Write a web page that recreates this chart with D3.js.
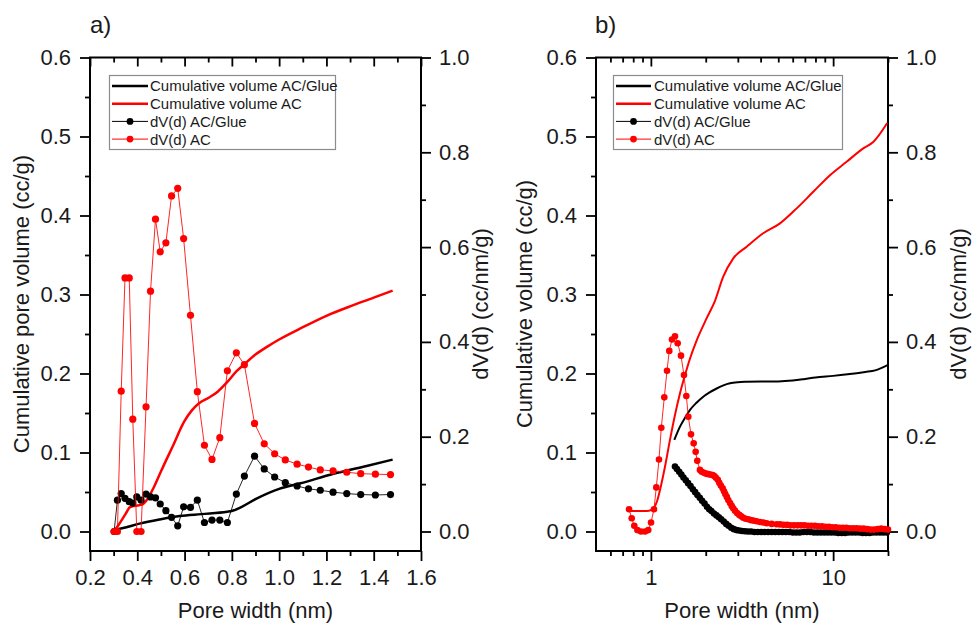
<!DOCTYPE html>
<html>
<head>
<meta charset="utf-8">
<script src="https://cdn.jsdelivr.net/npm/d3@7"></script>
<style>
  html, body { margin: 0; padding: 0; background: #fff; }
  svg { display: block; font-family: "Liberation Sans", Arial, Helvetica, sans-serif; }
</style>
</head>
<body>
<svg id="chart" width="974" height="627"></svg>
<script>
// ---------- Panel a: DFT pore size distribution (linear pore-width axis) ----------
const aPoreWidth = [0.302,0.316,0.332,0.348,0.366,0.381,0.398,0.416,0.437,0.456,0.477,0.497,0.521,0.545,0.571,0.596,0.625,0.654,0.684,0.716,0.749,0.781,0.819,0.853,0.896,0.937,0.981,1.026,1.076,1.124,1.174,1.228,1.286,1.345,1.407,1.471];
const aDvGlue = [0,0.066,0.080,0.070,0.063,0.060,0.073,0.066,0.079,0.073,0.071,0.058,0.044,0.030,0.012,0.052,0.051,0.066,0.019,0.024,0.024,0.019,0.079,0.117,0.159,0.132,0.115,0.103,0.096,0.090,0.087,0.083,0.080,0.078,0.077,0.078];
const aDvAC = [0,0,0.296,0.535,0.535,0.237,0,0,0.263,0.507,0.659,0.590,0.609,0.708,0.724,0.618,0.456,0.295,0.182,0.152,0.198,0.339,0.377,0.352,0.228,0.185,0.164,0.151,0.142,0.136,0.130,0.128,0.125,0.122,0.121,0.120];

const aCumGlueWidth = [0.30,0.31,0.35,0.41,0.50,0.58,0.67,0.78,0.80,0.84,0.90,1.00,1.09,1.23,1.37,1.48];
const aCumGlue = [0,0.002,0.005,0.010,0.0155,0.0195,0.022,0.025,0.026,0.031,0.041,0.054,0.061,0.073,0.083,0.091];
const aCumACWidth = [0.30,0.32,0.35,0.37,0.40,0.42,0.44,0.47,0.50,0.55,0.60,0.63,0.66,0.70,0.74,0.78,0.82,0.85,0.90,0.95,1.00,1.09,1.20,1.30,1.40,1.48];
const aCumAC = [0,0.008,0.022,0.031,0.033,0.034,0.040,0.056,0.076,0.108,0.140,0.153,0.162,0.169,0.177,0.189,0.203,0.211,0.224,0.234,0.243,0.257,0.273,0.285,0.296,0.305];

// ---------- Panel b: QSDFT distribution (log pore-width axis) ----------
const bDvGlueWidth = [1.356,1.39,1.43,1.47,1.51,1.555,1.60,1.65,1.70,1.75,1.80,1.855,1.91,1.97,2.03,2.09,2.15,2.22,2.29,2.36,2.43,2.51,2.59,2.67,2.76,2.85,2.95,3.05,3.16,3.28,3.41,3.55,3.70,3.86,4.03,4.21,4.40,4.60,4.81,5.03,5.26,5.50,5.75,6.01,6.28,6.56,6.86,7.17,7.49,7.83,8.18,8.55,8.94,9.34,9.76,10.2,10.66,11.14,11.64,12.16,12.71,13.28,13.88,14.5,15.15,15.83,16.54,17.28,18.06,18.87,19.7];
const bDvGlue = [0.137,0.132,0.126,0.120,0.114,0.108,0.102,0.096,0.089,0.083,0.077,0.071,0.065,0.059,0.052,0.047,0.043,0.038,0.034,0.030,0.026,0.021,0.016,0.012,0.008,0.005,0.003,0.002,0.001,0.0005,
  0,0,-0.001,-0.001,-0.001,-0.001,-0.001,-0.001,-0.001,-0.001,
  -0.001,-0.001,-0.001,-0.002,-0.002,-0.002,-0.001,-0.001,-0.001,-0.002,
  -0.002,-0.002,-0.002,-0.002,-0.002,-0.002,-0.003,-0.003,-0.003,-0.002,
  -0.002,-0.002,-0.002,-0.003,-0.003,-0.003,-0.002,-0.002,-0.002,-0.002,-0.002];

const bDvACWidth = [0.759,0.785,0.811,0.843,0.883,0.929,0.968,1.002,1.040,1.071,
  1.108,1.141,1.185,1.226,1.262,1.306,1.356,1.403,1.463,1.519,
  1.565,1.605,1.660,1.717,1.761,1.797,1.859,1.90,1.956,2.01,
  2.065,2.12,2.183,2.23,2.276,2.33,2.373,2.42,2.477,2.52,
  2.56,2.61,2.659,2.72,2.776,2.83,2.894,2.97,3.055,3.13,
  3.213,3.31,3.42,3.53,3.647,3.80,3.97,4.14,4.32,4.6,4.9,
  5.12,5.35,5.59,5.84,6.10,6.38,6.66,6.96,7.28,7.60,7.95,8.30,8.68,9.07,9.48,9.90,10.35,10.81,11.30,11.81,12.34,12.90,13.48,14.08,14.72,15.38,16.07,16.79,17.55,18.34,19.16,20.0];
const bDvAC = [0.047,0.028,0.012,0.003,0,0,0.003,0.019,0.047,0.093,
  0.152,0.219,0.283,0.339,0.381,0.405,0.412,0.397,0.371,0.330,
  0.286,0.242,0.205,0.186,0.168,0.149,0.130,0.126,0.124,0.122,
  0.121,0.120,0.119,0.117,0.1135,0.109,0.103,0.097,0.091,0.085,
  0.079,0.073,0.0665,0.060,0.054,0.049,0.044,0.039,0.035,0.032,
  0.029,0.027,0.0257,0.024,0.023,0.0215,0.020,0.019,0.0173,0.016,0.0152,
  0.015,0.014,0.014,0.013,0.013,0.013,0.013,0.013,0.012,0.012,0.012,0.011,0.011,0.010,0.010,0.009,0.009,0.008,0.008,0.008,0.007,0.007,0.007,0.006,0.006,0.005,0.004,0.004,0.005,0.006,0.005,0.004];

const bCumGlueWidth = [1.345,1.445,1.54,1.64,1.78,1.939,2.1,2.295,2.5,2.717,3.0,3.354,4.0,5.0,6.0,7.0,8.0,10.0,12.0,15.0,17.0,20.0];
const bCumGlue = [0.116,0.1327,0.144,0.154,0.163,0.1706,0.176,0.181,0.185,0.1876,0.189,0.1896,0.190,0.190,0.191,0.193,0.195,0.197,0.199,0.202,0.204,0.211];
const bCumACWidth = [0.74,0.85,0.95,1.00,1.04,1.08,1.122,1.195,1.273,1.356,1.445,1.539,1.64,1.784,2.024,2.248,2.495,2.832,3.354,4.136,5.11,6.31,7.78,9.61,11.86,14.63,16.6,19.8];
const bCumAC = [0.026,0.026,0.026,0.027,0.030,0.038,0.0525,0.082,0.116,0.1475,0.175,0.198,0.219,0.242,0.270,0.292,0.3225,0.3458,0.3605,0.3775,0.390,0.409,0.430,0.451,0.468,0.485,0.493,0.517];

// ---------- Axis ticks and labels ----------
const aXMajor = [0.2,0.4,0.6,0.8,1.0,1.2,1.4,1.6];
const aXMinor = [0.3,0.5,0.7,0.9,1.1,1.3,1.5];
const bXMajor = [1,10];
const bXMinor = [0.6,0.7,0.8,0.9,2,3,4,5,6,7,8,9,20];
const leftMajor = [0,0.1,0.2,0.3,0.4,0.5,0.6];
const leftMinor = [0.05,0.15,0.25,0.35,0.45,0.55];
const rightMajor = [0,0.2,0.4,0.6,0.8,1.0];
const rightMinor = [0.1,0.3,0.5,0.7,0.9];

const legendLabels = ["Cumulative volume AC/Glue","Cumulative volume AC","dV(d) AC/Glue","dV(d) AC"];
const xTitle = "Pore width (nm)";
const rightTitle = "dV(d) (cc/nm/g)";

const FONT = '"Liberation Sans", Arial, Helvetica, sans-serif';
const INK = "#1a1a1a";
const RED = "#ff0000";

const svg = d3.select("#chart");

const TOP = 57.5, BOTTOM = 551;
const yLeft = d3.scaleLinear().domain([0, 0.6]).range([531.5, TOP]);
const yRight = d3.scaleLinear().domain([0, 1.0]).range([531.5, TOP]);

function styleAxis(g, withText) {
  g.select(".domain").remove();
  g.selectAll("line").attr("stroke", "#000").attr("stroke-width", 1.8);
  g.selectAll("text")
    .attr("font-family", FONT)
    .attr("font-size", 22)
    .attr("fill", INK);
  if (!withText) g.selectAll("text").remove();
}

function drawPanel(p) {
  const { x, left, right, fmtX } = p;
  const g = svg.append("g");

  // bottom axis (outward ticks)
  g.append("g").attr("transform", `translate(0,${BOTTOM})`)
    .call(d3.axisBottom(x).tickValues(p.xMajor).tickSize(10).tickPadding(8).tickFormat(fmtX))
    .call(s => styleAxis(s, true));
  g.append("g").attr("transform", `translate(0,${BOTTOM})`)
    .call(d3.axisBottom(x).tickValues(p.xMinor).tickSize(5).tickFormat(""))
    .call(s => styleAxis(s, false));
  // top axis (inward ticks)
  g.append("g").attr("transform", `translate(0,${TOP})`)
    .call(d3.axisBottom(x).tickValues(p.xMajor).tickSize(9).tickFormat(""))
    .call(s => styleAxis(s, false));
  g.append("g").attr("transform", `translate(0,${TOP})`)
    .call(d3.axisBottom(x).tickValues(p.xMinor).tickSize(5).tickFormat(""))
    .call(s => styleAxis(s, false));
  // left axis
  g.append("g").attr("transform", `translate(${left},0)`)
    .call(d3.axisLeft(yLeft).tickValues(leftMajor).tickSize(10).tickPadding(9).tickFormat(d3.format(".1f")))
    .call(s => styleAxis(s, true));
  g.append("g").attr("transform", `translate(${left},0)`)
    .call(d3.axisLeft(yLeft).tickValues(leftMinor).tickSize(5).tickFormat(""))
    .call(s => styleAxis(s, false));
  // right axis
  g.append("g").attr("transform", `translate(${right},0)`)
    .call(d3.axisRight(yRight).tickValues(rightMajor).tickSize(10).tickPadding(8).tickFormat(d3.format(".1f")))
    .call(s => styleAxis(s, true));
  g.append("g").attr("transform", `translate(${right},0)`)
    .call(d3.axisRight(yRight).tickValues(rightMinor).tickSize(5).tickFormat(""))
    .call(s => styleAxis(s, false));

  // frame
  g.append("rect")
    .attr("x", left).attr("y", TOP)
    .attr("width", right - left).attr("height", BOTTOM - TOP)
    .attr("fill", "none").attr("stroke", "#000").attr("stroke-width", 2);

  // cumulative curves (left axis)
  const cumLine = d3.line().curve(d3.curveMonotoneX)
    .x(d => x(d[0])).y(d => yLeft(d[1]));
  g.append("path").datum(d3.zip(p.cumGlueX, p.cumGlue))
    .attr("d", cumLine).attr("fill", "none").attr("stroke", "#000").attr("stroke-width", p.cumWidth);
  g.append("path").datum(d3.zip(p.cumACX, p.cumAC))
    .attr("d", cumLine).attr("fill", "none").attr("stroke", RED).attr("stroke-width", p.cumWidth);

  // dV(d) curves (right axis)
  const dvLine = d3.line().x(d => x(d[0])).y(d => yRight(d[1]));
  [[p.dvGlueX, p.dvGlue, "#000"], [p.dvACX, p.dvAC, RED]].forEach(([xs, ys, col]) => {
    const pts = d3.zip(xs, ys);
    g.append("path").datum(pts).attr("d", dvLine)
      .attr("fill", "none").attr("stroke", col).attr("stroke-width", 1).attr("stroke-opacity", 0.85);
    g.append("g").selectAll("circle").data(pts).join("circle")
      .attr("cx", d => x(d[0])).attr("cy", d => yRight(d[1]))
      .attr("r", p.markerR).attr("fill", col);
  });

  // legend
  const lg = g.append("g");
  const L = p.legend;
  lg.append("rect").attr("x", L.x).attr("y", L.y).attr("width", L.w).attr("height", L.h)
    .attr("fill", "#fff").attr("stroke", "#8c8c8c").attr("stroke-width", 1.2);
  const styles = [
    { col: "#000", w: 2.4, marker: false },
    { col: RED, w: 2.4, marker: false },
    { col: "#000", w: 1, marker: true },
    { col: RED, w: 1, marker: true }
  ];
  legendLabels.forEach((lab, i) => {
    const yy = L.row0 + i * L.dy;
    const st = styles[i];
    lg.append("line").attr("x1", L.lx1).attr("x2", L.lx2).attr("y1", yy).attr("y2", yy)
      .attr("stroke", st.col).attr("stroke-width", st.w);
    if (st.marker) {
      lg.append("circle").attr("cx", (L.lx1 + L.lx2) / 2).attr("cy", yy).attr("r", 3.4).attr("fill", st.col);
    }
    lg.append("text").attr("x", L.tx).attr("y", yy).attr("dy", "0.36em")
      .attr("font-family", FONT).attr("font-size", 15).attr("fill", INK).text(lab);
  });

  // titles
  g.append("text").attr("x", (left + right) / 2).attr("y", 618)
    .attr("text-anchor", "middle").attr("font-family", FONT).attr("font-size", 22).attr("fill", INK)
    .text(xTitle);
  g.append("text").attr("transform", `translate(${p.leftTitleX},304) rotate(-90)`)
    .attr("text-anchor", "middle").attr("font-family", FONT).attr("font-size", 22).attr("fill", INK)
    .text(p.leftTitle);
  g.append("text").attr("transform", `translate(${p.rightTitleX},304) rotate(-90)`)
    .attr("text-anchor", "middle").attr("font-family", FONT).attr("font-size", 22).attr("fill", INK)
    .text(rightTitle);
  g.append("text").attr("x", p.tagX).attr("y", 33)
    .attr("font-family", FONT).attr("font-size", 24).attr("fill", INK).text(p.tag);
}

drawPanel({
  x: d3.scaleLinear().domain([0.2, 1.6]).range([90, 421]),
  left: 90, right: 421,
  xMajor: aXMajor, xMinor: aXMinor, fmtX: d3.format(".1f"),
  cumGlueX: aCumGlueWidth, cumGlue: aCumGlue, cumACX: aCumACWidth, cumAC: aCumAC, cumWidth: 2.5,
  dvGlueX: aPoreWidth, dvGlue: aDvGlue, dvACX: aPoreWidth, dvAC: aDvAC, markerR: 3.6,
  legend: { x: 109.5, y: 75.5, w: 226, h: 74, row0: 86, dy: 17.7, lx1: 112, lx2: 148, tx: 150 },
  leftTitle: "Cumulative pore volume (cc/g)", leftTitleX: 28.5, rightTitleX: 488,
  tag: "a)", tagX: 90
});

drawPanel({
  x: d3.scaleLog().domain([0.5, 20]).range([596, 888]),
  left: 596, right: 888,
  xMajor: bXMajor, xMinor: bXMinor, fmtX: d3.format("~g"),
  cumGlueX: bCumGlueWidth, cumGlue: bCumGlue, cumACX: bCumACWidth, cumAC: bCumAC, cumWidth: 2,
  dvGlueX: bDvGlueWidth, dvGlue: bDvGlue, dvACX: bDvACWidth, dvAC: bDvAC, markerR: 3.3,
  legend: { x: 613.5, y: 75.5, w: 229, h: 74, row0: 86, dy: 17.7, lx1: 616, lx2: 651, tx: 654 },
  leftTitle: "Cumulative volume (cc/g)", leftTitleX: 532, rightTitleX: 966,
  tag: "b)", tagX: 595
});
</script>
</body>
</html>
